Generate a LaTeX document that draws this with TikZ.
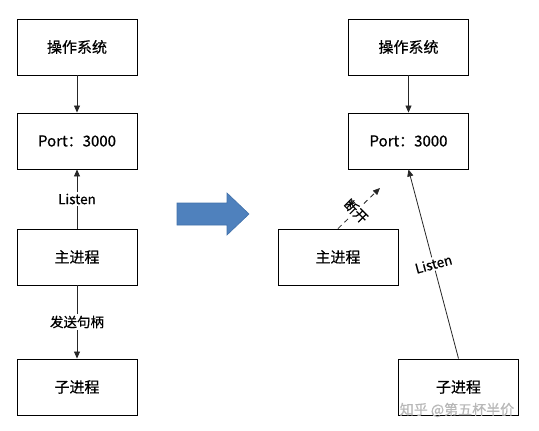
\documentclass[tikz,border=0pt]{standalone}
\usepackage{fontspec}
\setmainfont{Noto Sans CJK SC}[FakeBold=0.6]
\usetikzlibrary{arrows.meta}
\tikzset{
  box/.style={draw=black, line width=0.9pt, minimum width=120pt, minimum height=56pt, inner sep=0pt, font=\fontsize{15}{18}\selectfont, fill=white},
  conn/.style={draw=black!85, line width=0.8pt, -{Triangle[length=7pt,width=6pt]}},
  lbl/.style={fill=white, inner sep=1.5pt, font=\fontsize{13.5}{16}\selectfont},
}
\begin{document}
\begin{tikzpicture}[x=1pt,y=-1pt]
\useasboundingbox (0,0) rectangle (539,431);
% left column
\node[box] (os1) at (77,47) {操作系统};
\node[box] (port1) at (77,141) {Port：3000};
\node[box] (main1) at (77,257) {主进程};
\node[box] (child1) at (77,387) {子进程};
\draw[conn] (os1) -- (port1);
\draw[conn] (main1) -- node[lbl] {Listen} (port1);
\draw[conn] (main1) -- node[lbl, pos=0.5] {发送句柄} (child1);
% big arrow
\fill[fill={rgb,255:red,79;green,129;blue,189}, draw={rgb,255:red,65;green,113;blue,170}, line width=0.6pt]
  (177,203) -- (227,203) -- (227,193) -- (249,214) -- (227,235) -- (227,225) -- (177,225) -- cycle;
% right column
\node[box] (os2) at (408.5,47) {操作系统};
\node[box] (port2) at (408.5,141) {Port：3000};
\node[box] (main2) at (338,257) {主进程};
\node[box] (child2) at (458.5,387) {子进程};
\coordinate (brk) at (380,188);
\draw[conn] (os2) -- (port2);
\draw[conn, dashed, dash pattern=on 5pt off 4pt] (main2.north) -- node[lbl, rotate=-45, pos=0.43] {断开} (brk);
\draw[conn] (child2.north) -- node[lbl, rotate=15, pos=0.5] {Listen} (port2.south);
% watermark
\node[text=black!28, font=\fontsize{14}{16}\selectfont, inner sep=0pt] (wm) at (457,410) {知乎 @第五杯半价};
\end{tikzpicture}
\end{document}
